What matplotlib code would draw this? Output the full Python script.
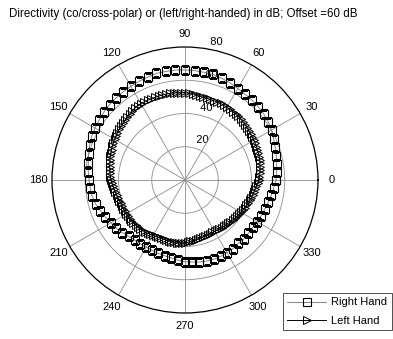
import numpy as np
import matplotlib
matplotlib.use("Agg")
import matplotlib.pyplot as plt

plt.rcParams['font.family'] = ['Liberation Sans', 'DejaVu Sans']

# Directivity in dB; plotted with a +60 dB offset
OFFSET = 60

# right-handed component, sampled every 5 degrees (0..355)
right_angles_deg = np.arange(0, 360, 5)
right_hand_db = np.array([
    54.8, 55.4, 56.0, 56.8, 57.7, 58.8, 60.1, 61.1, 61.8, 62.3, 62.7, 63.0,
    63.5, 64.4, 65.0, 65.7, 65.8, 66.0, 66.2, 66.4, 66.3, 66.4, 65.8, 65.5,
    65.0, 64.8, 64.5, 64.2, 63.6, 63.0, 62.5, 62.0, 61.0, 60.0, 59.1, 58.4,
    57.7, 57.2, 56.7, 55.7, 54.1, 52.8, 51.4, 50.5, 49.2, 47.9, 47.1, 46.9,
    46.7, 46.7, 47.0, 47.2, 47.6, 48.4, 49.2, 49.5, 50.1, 50.4, 50.8, 50.7,
    50.4, 50.3, 49.8, 50.0, 49.8, 49.8, 50.3, 50.6, 51.1, 51.7, 52.7, 53.6,
]) - OFFSET

# left-handed component, sampled every 2.5 degrees (0..357.5)
left_angles_deg = np.arange(0, 360, 2.5)
left_hand_db = np.array([
    44.5, 44.8, 45.2, 45.5, 45.9, 46.2, 46.5, 46.8, 47.0, 47.2, 47.4, 47.6,
    47.8, 48.0, 48.2, 48.5, 48.8, 49.1, 49.4, 49.7, 49.9, 50.0, 50.1, 50.3,
    50.4, 50.6, 50.8, 50.8, 50.7, 50.8, 50.9, 51.0, 51.2, 51.6, 52.0, 52.2,
    52.4, 52.5, 52.6, 52.8, 52.9, 52.9, 52.9, 52.9, 52.9, 53.0, 53.0, 53.0,
    53.0, 52.9, 52.7, 52.3, 51.8, 51.4, 51.0, 50.7, 50.4, 50.0, 49.6, 49.2,
    48.9, 48.5, 48.2, 47.8, 47.5, 47.1, 46.7, 46.3, 46.0, 45.6, 45.3, 44.9,
    44.5, 44.0, 43.5, 43.0, 42.6, 42.2, 41.8, 41.4, 41.1, 41.0, 40.9, 40.8,
    40.8, 40.7, 40.7, 40.6, 40.5, 40.3, 40.1, 39.9, 39.7, 39.4, 39.1, 38.8,
    38.5, 38.2, 38.0, 37.9, 37.8, 37.8, 37.9, 38.0, 38.0, 38.1, 38.1, 38.0,
    37.9, 37.5, 37.1, 36.8, 36.5, 36.2, 36.0, 35.8, 35.7, 35.6, 35.6, 35.6,
    35.7, 35.8, 35.9, 36.1, 36.3, 36.5, 36.8, 37.1, 37.4, 37.7, 38.1, 38.4,
    38.8, 39.2, 39.6, 40.0, 40.4, 40.8, 41.2, 41.6, 42.0, 42.5, 43.0, 43.7,
]) - OFFSET

ring_values = [20, 40, 60, 80]
spoke_angles = np.arange(0, 360, 30)
series_labels = ["Right Hand", "Left Hand"]
title_text = "Directivity (co/cross-polar) or (left/right-handed) in dB; Offset =60 dB"

R_MAX = ring_values[-1]
FS = 8
GRID = '0.55'

fig = plt.figure(figsize=(3.93, 3.39), dpi=100)
ax = fig.add_axes([52 / 393, 26 / 339, 266 / 393, 266 / 339], projection='polar')
ax.set_ylim(0, R_MAX)

ax.set_xticks(np.deg2rad(spoke_angles))
ax.set_xticklabels([])
ax.set_yticks(ring_values[:-1])
ax.set_yticklabels([])
ax.grid(True, color=GRID, linewidth=0.6, linestyle='-')
ax.spines['polar'].set_color('k')
ax.spines['polar'].set_linewidth(0.9)
ax.tick_params(length=0)

# spoke labels just outside the outer ring
for a in spoke_angles:
    ax.text(np.deg2rad(a), R_MAX * 1.1, f"{a}", ha='center', va='center',
            fontsize=FS, clip_on=False)

# ring labels along the 82 degree ray
for rv in ring_values:
    ax.text(np.deg2rad(82), rv + 1, f"  {rv}", ha='left', va='bottom',
            fontsize=FS, clip_on=False, zorder=1)

def closed(angles_deg, values_db):
    th = np.deg2rad(np.append(angles_deg, 360))
    r = np.append(values_db, values_db[0]) + OFFSET
    return th, r

th_r, r_right = closed(right_angles_deg, right_hand_db)
th_l, r_left = closed(left_angles_deg, left_hand_db)

h1, = ax.plot(th_r, r_right, color='0.45', linewidth=0.6, marker='s',
              markersize=5.6, markerfacecolor='none', markeredgecolor='k',
              markeredgewidth=0.8, label=series_labels[0], zorder=3)
h2, = ax.plot(th_l, r_left, color='k', linewidth=0.7, marker='>',
              markersize=5.5, markerfacecolor='none', markeredgecolor='k',
              markeredgewidth=0.7, label=series_labels[1], zorder=3)

fig.text(183 / 393, 1 - 14 / 339, title_text, ha='center', va='center',
         fontsize=8.3)

leg = fig.legend(handles=[h1, h2], loc='upper left',
                 bbox_to_anchor=(283 / 393, 1 - 293 / 339), borderaxespad=0,
                 fontsize=FS, frameon=True, fancybox=False, shadow=False,
                 handlelength=3.5, handletextpad=0.45, borderpad=0.4,
                 labelspacing=0.75, markerscale=1.0)
leg.get_frame().set_edgecolor('k')
leg.get_frame().set_linewidth(0.6)

fig.savefig('out.png', dpi=100)
